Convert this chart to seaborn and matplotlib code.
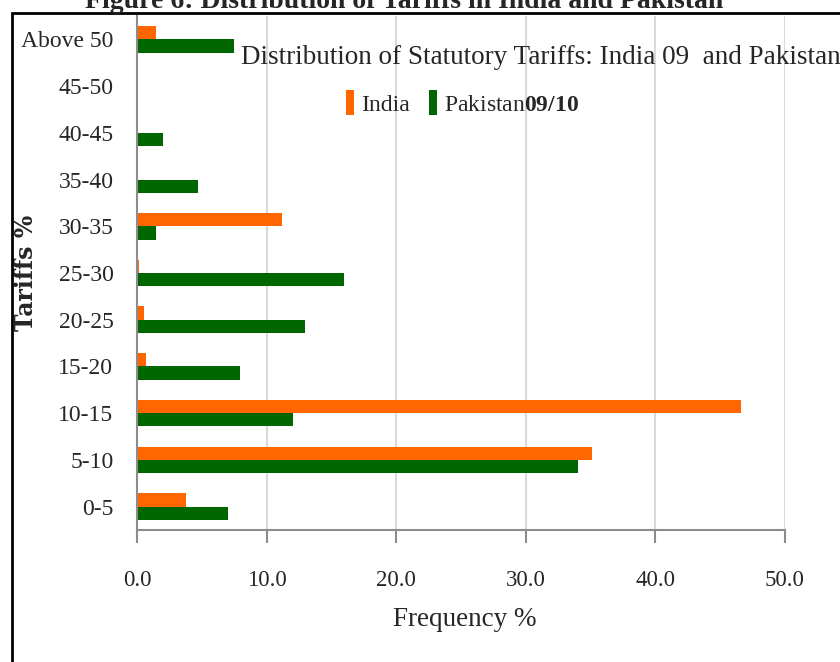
import matplotlib
matplotlib.use("Agg")
import matplotlib.pyplot as plt
import seaborn as sns
import pandas as pd
from matplotlib.patches import Rectangle, Patch

# Tariff bands, listed top to bottom as drawn on the y axis
tariff_bands = ["Above 50", "45-50", "40-45", "35-40", "30-35", "25-30",
                "20-25", "15-20", "10-15", "5-10", "0-5"]
# Share of tariff lines (%) in each band
india = [1.5, 0.0, 0.0, 0.0, 11.2, 0.15, 0.55, 0.7, 46.6, 35.1, 3.8]
pakistan = [7.5, 0.0, 2.0, 4.7, 1.45, 16.0, 13.0, 7.95, 12.0, 34.0, 7.0]
countries = ["India", "Pakistan"]
x_ticks = [0, 10, 20, 30, 40, 50]

colors = {"India": "#FF6600", "Pakistan": "#006600"}

sns.set_style("white")
plt.rcParams["font.family"] = ["Liberation Serif", "DejaVu Serif"]
plt.rcParams["mathtext.fontset"] = "custom"
plt.rcParams["mathtext.rm"] = "Liberation Serif"
plt.rcParams["mathtext.bf"] = "Liberation Serif:bold"

df = pd.DataFrame({
    "Band": tariff_bands * 2,
    "Frequency": india + pakistan,
    "Country": ["India"] * len(tariff_bands) + ["Pakistan"] * len(tariff_bands),
})

W, H = 840, 662
fig = plt.figure(figsize=(W / 100, H / 100), dpi=100)
left, right, top, bottom = 137, 785, 16, 530
ax = fig.add_axes([left / W, 1 - bottom / H, (right - left) / W, (bottom - top) / H])

sns.barplot(data=df, y="Band", x="Frequency", hue="Country",
            order=tariff_bands, hue_order=countries, palette=colors,
            orient="h", width=0.57, gap=0, saturation=1, linewidth=0,
            errorbar=None, legend=False, ax=ax)

ax.set_xlim(0, 50)
ax.set_xticks(x_ticks)
ax.set_xticklabels([f"{v:.1f}" for v in x_ticks])
ax.xaxis.grid(True, color="#d9d9d9", lw=1.5)
ax.yaxis.grid(False)
ax.set_axisbelow(True)
for s in ("top", "right"):
    ax.spines[s].set_visible(False)
for s in ("left", "bottom"):
    ax.spines[s].set_color("#8c8c8c")
    ax.spines[s].set_linewidth(1.5)

ax.tick_params(axis="x", length=9, width=1.5, color="#8c8c8c", pad=20,
               labelsize=16.5, bottom=True)
ax.tick_params(axis="y", length=0, pad=17, labelsize=17)

ax.set_xlabel("Frequency %", fontsize=19.5)
ax.xaxis.set_label_coords((465 - left) / (right - left), -(620 - bottom) / (bottom - top))
ax.xaxis.label.set_va("center")
ax.set_ylabel("Tariffs %", fontsize=17, fontweight="bold", family=["DejaVu Serif"])
ax.yaxis.set_label_coords(-(left - 26) / (right - left), (bottom - 273) / (bottom - top))
ax.yaxis.label.set_va("center")

# Chart heading inside the plot area
fig.text(241 / W, 1 - 57 / H, "Distribution of Statutory Tariffs: India 09  and Pakistan",
         fontsize=19.5, ha="left", va="center")

handles = [Patch(facecolor=colors[c], edgecolor="none") for c in countries]
fig.legend(handles, ["India", r"Pakistan$\mathbf{09/10}$"], loc="center left",
           bbox_to_anchor=(346 / W, 1 - 103 / H), ncol=2, frameon=False,
           handlelength=0.35, handleheight=1.2, handletextpad=0.3,
           columnspacing=0.8, borderpad=0, borderaxespad=0, fontsize=17)

# Figure caption and surrounding frame
fig.text(404 / W, 1 - 8 / H, "Figure 6: Distribution of Tariffs in India and Pakistan",
         ha="center", va="baseline", fontsize=20, fontweight="bold")
fig.add_artist(Rectangle((11.5 / W, -0.1), 2.0, 1 - 13 / H + 0.1,
                         transform=fig.transFigure, fill=False,
                         edgecolor="black", lw=2, clip_on=False))

fig.savefig("out.png", dpi=100)
